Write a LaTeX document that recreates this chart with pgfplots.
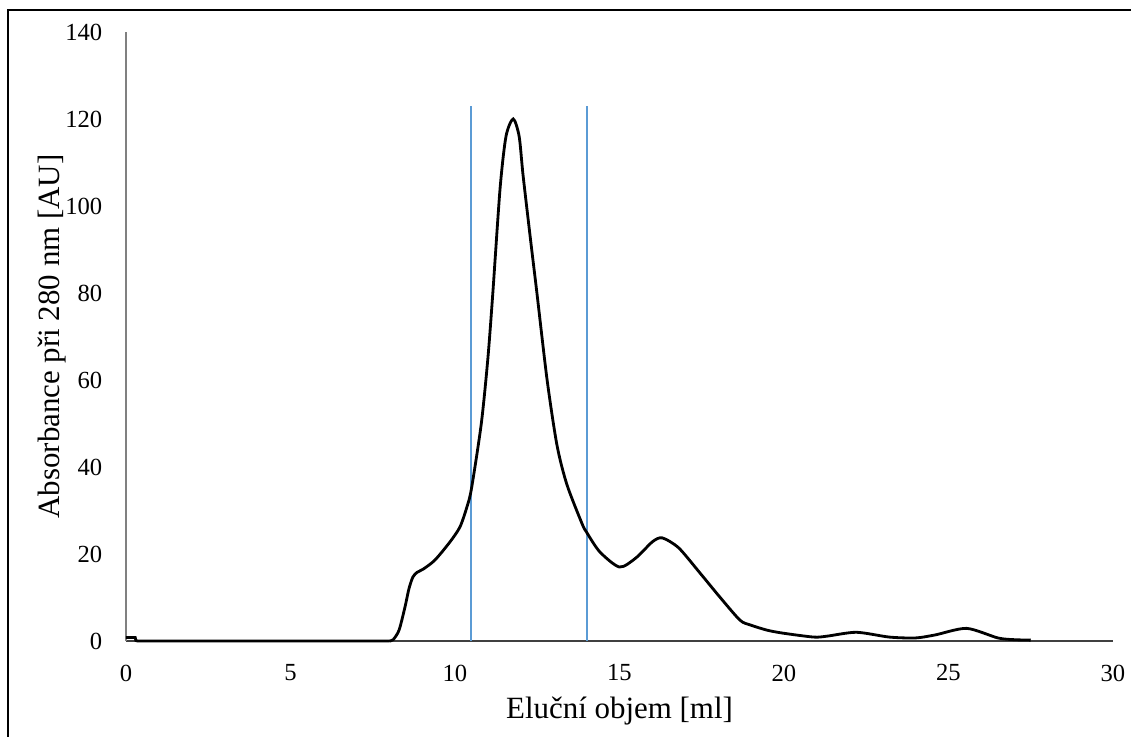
\documentclass[border=0pt]{standalone}
\usepackage{fontspec}
\setmainfont{Liberation Serif}
\usepackage{pgfplots}
\pgfplotsset{compat=1.18}
\definecolor{cutblue}{HTML}{5B9BD5}
\definecolor{axgray}{HTML}{808080}

\begin{document}
\begin{tikzpicture}
\useasboundingbox (0,0) rectangle (11.31,7.37);
\draw[line width=0.6pt,black] (0.08,0) -- (0.08,7.27) -- (11.31,7.27);
\begin{axis}[
  at={(1.26cm,0.96cm)},anchor=south west,
  scale only axis,
  width=9.87cm,height=6.09cm,
  xmin=0,xmax=30,ymin=0,ymax=140,
  axis lines=left,
  axis line style={-},
  x axis line style={line width=0.55pt,color=black!75},
  y axis line style={line width=0.5pt,color=axgray},
  xtick={0,5,...,30},
  ytick={0,20,...,140},
  major tick length=0pt,
  tick label style={font=\fontsize{7pt}{8pt}\selectfont},
  /pgf/number format/assume math mode=true,
  yticklabel style={inner sep=0pt,xshift=-0.23cm},
  xticklabel style={inner sep=0pt,yshift=-0.23cm},
  label style={font=\fontsize{8.8pt}{10pt}\selectfont},
  xlabel={Eluční objem [ml]},
  ylabel={Absorbance při 280 nm [AU]},
  xlabel style={at={(axis description cs:0.5,-0.128)},anchor=base},
  ylabel style={at={(axis description cs:-0.075,0.5)},anchor=center},
  clip=false,
]
\addplot[cutblue,line width=0.6pt] coordinates {(10.5,0) (10.5,123)};
\addplot[cutblue,line width=0.6pt] coordinates {(14,0) (14,123)};
\addplot[black,line width=0.8pt,sharp plot] coordinates {
(0,0.8) (0.28,0.8) (0.3,0.1) (0.35,0) (8.0,0)};
\addplot[black,line width=0.8pt,smooth,tension=0.45] coordinates {
(8.0,0) (8.12,0.3) (8.3,2.5) (8.48,7.8) (8.6,12) (8.72,14.7) (8.85,15.8)
(9.03,16.5) (9.39,18.6) (9.85,22.8) (10.15,26.2) (10.35,30.5) (10.5,35)
(10.8,50) (11.0,65) (11.15,80) (11.37,104) (11.55,116) (11.77,120)
(11.95,116) (12.07,107) (12.3,92) (12.49,80) (12.8,60) (13.1,45)
(13.4,36) (13.86,27) (14.0,25) (14.4,20.5) (15.0,17.0) (15.5,19.1)
(16.0,22.8) (16.3,23.7) (16.8,21.4) (17.45,15.6) (18.05,10.1) (18.66,4.8)
(18.97,3.7) (19.48,2.5) (19.97,1.8) (20.9,0.9) (21.3,1.1) (22.2,2.0)
(23.2,0.9) (24.0,0.7) (24.6,1.4) (25.55,2.9) (26.5,0.7) (27.0,0.3) (27.5,0.2)};
\end{axis}
\end{tikzpicture}
\end{document}
